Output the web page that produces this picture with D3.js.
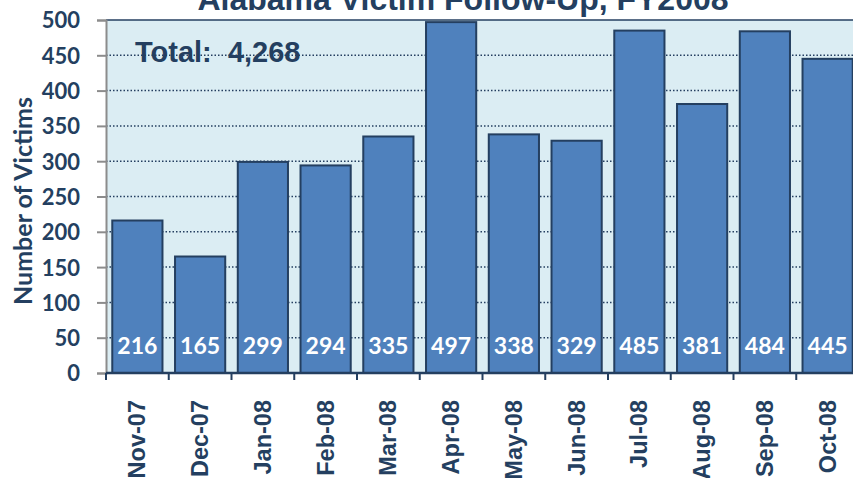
<!DOCTYPE html>
<html lang="en">
<head>
<meta charset="UTF-8"/>
<title>Alabama Victim Follow-Up, FY2008</title>
<script src="https://d3js.org/d3.v7.min.js"></script>
<style>
    body, html { margin: 0; padding: 0; background: #fff; overflow: hidden; }
    svg { display: block; }
    .lbl { font-family: Lato, "Open Sans", sans-serif; font-weight: bold; fill: #243f60; }
    .arial { font-family: "Liberation Sans", Arial, sans-serif; font-weight: bold; fill: #243f60; }
</style>
</head>
<body>
<svg id="chart" width="853" height="478"></svg>
<script>
const months = ["Nov-07", "Dec-07", "Jan-08", "Feb-08", "Mar-08", "Apr-08",
                "May-08", "Jun-08", "Jul-08", "Aug-08", "Sep-08", "Oct-08"];
const victims = [216, 165, 299, 294, 335, 497, 338, 329, 485, 381, 484, 445];
const yTicks = [0, 50, 100, 150, 200, 250, 300, 350, 400, 450, 500];
const totalLabel = "Total:  4,268";

const navy = "#243f60";
const svg = d3.select("#chart");

const plotLeft = 106, plotTop = 20, plotBottom = 373;
const step = 62.75;
const plotRight = plotLeft + months.length * step;

const x = d3.scaleBand()
    .domain(months)
    .range([plotLeft, plotRight])
    .paddingInner(0.2)
    .paddingOuter(0.1);
const y = d3.scaleLinear().domain([0, 500]).range([plotBottom, plotTop]);

// plot background
svg.append("rect")
    .attr("x", plotLeft).attr("y", plotTop)
    .attr("width", 853 - plotLeft).attr("height", plotBottom - plotTop)
    .attr("fill", "#dbedf3");

// dotted gridlines
svg.append("g").selectAll("line")
    .data(yTicks.filter(d => d > 0 && d < 500))
    .join("line")
    .attr("x1", plotLeft).attr("x2", 853)
    .attr("y1", d => y(d)).attr("y2", d => y(d))
    .attr("stroke", navy)
    .attr("stroke-width", 1.5)
    .attr("stroke-dasharray", "1.5,2");

// top border
svg.append("line")
    .attr("x1", plotLeft).attr("x2", 853)
    .attr("y1", y(500)).attr("y2", y(500))
    .attr("stroke", navy).attr("stroke-width", 1.5);

// bars
svg.append("g").selectAll("rect")
    .data(victims)
    .join("rect")
    .attr("x", (d, i) => x(months[i]))
    .attr("y", d => y(d))
    .attr("width", x.bandwidth())
    .attr("height", d => y(0) - y(d))
    .attr("fill", "#4f81bd")
    .attr("stroke", navy)
    .attr("stroke-width", 2);

// value labels
svg.append("g").selectAll("text")
    .data(victims)
    .join("text")
    .attr("class", "lbl")
    .attr("x", (d, i) => x(months[i]) + x.bandwidth() / 2)
    .attr("y", 354)
    .attr("text-anchor", "middle")
    .attr("font-size", 23)
    .style("fill", "#fff")
    .text(d => d);

// y axis
const yAxis = svg.append("g")
    .attr("transform", `translate(${plotLeft},0)`)
    .call(d3.axisLeft(y).tickValues(yTicks).tickSize(9).tickPadding(17));
yAxis.select(".domain").attr("stroke", "#8c8c8c").attr("stroke-width", 2);
yAxis.selectAll(".tick line").attr("stroke", "#8c8c8c").attr("stroke-width", 2);
yAxis.selectAll(".tick text")
    .attr("class", "lbl")
    .attr("font-size", 22)
    .attr("dy", "0.36em");

// x axis line and ticks between bands
svg.append("line")
    .attr("x1", plotLeft).attr("x2", 853)
    .attr("y1", plotBottom).attr("y2", plotBottom)
    .attr("stroke", navy).attr("stroke-width", 2.5);
const gap = x.step() * x.paddingInner() / 2;
svg.append("g").selectAll("line")
    .data(months)
    .join("line")
    .attr("x1", d => x(d) - gap).attr("x2", d => x(d) - gap)
    .attr("y1", plotBottom).attr("y2", plotBottom + 7)
    .attr("stroke", navy).attr("stroke-width", 2);

// category labels
svg.append("g").selectAll("text")
    .data(months)
    .join("text")
    .attr("class", "arial")
    .attr("font-size", 23.5)
    .attr("text-anchor", "end")
    .attr("transform", d => `translate(${x(d) + x.bandwidth() / 2 + 8},400) rotate(-90)`)
    .text(d => d);

// y axis title
svg.append("text")
    .attr("class", "lbl")
    .attr("font-size", 25)
    .attr("text-anchor", "middle")
    .attr("transform", "translate(32,201) rotate(-90)")
    .text("Number of Victims");

// chart title
svg.append("text")
    .attr("class", "arial")
    .attr("x", 463).attr("y", 10)
    .attr("text-anchor", "middle")
    .attr("font-size", 32)
    .text("Alabama Victim Follow-Up, FY2008");

// total annotation
svg.append("text")
    .attr("class", "arial")
    .attr("x", 135).attr("y", 62)
    .attr("font-size", 29)
    .style("white-space", "pre")
    .text(totalLabel);
</script>
</body>
</html>
